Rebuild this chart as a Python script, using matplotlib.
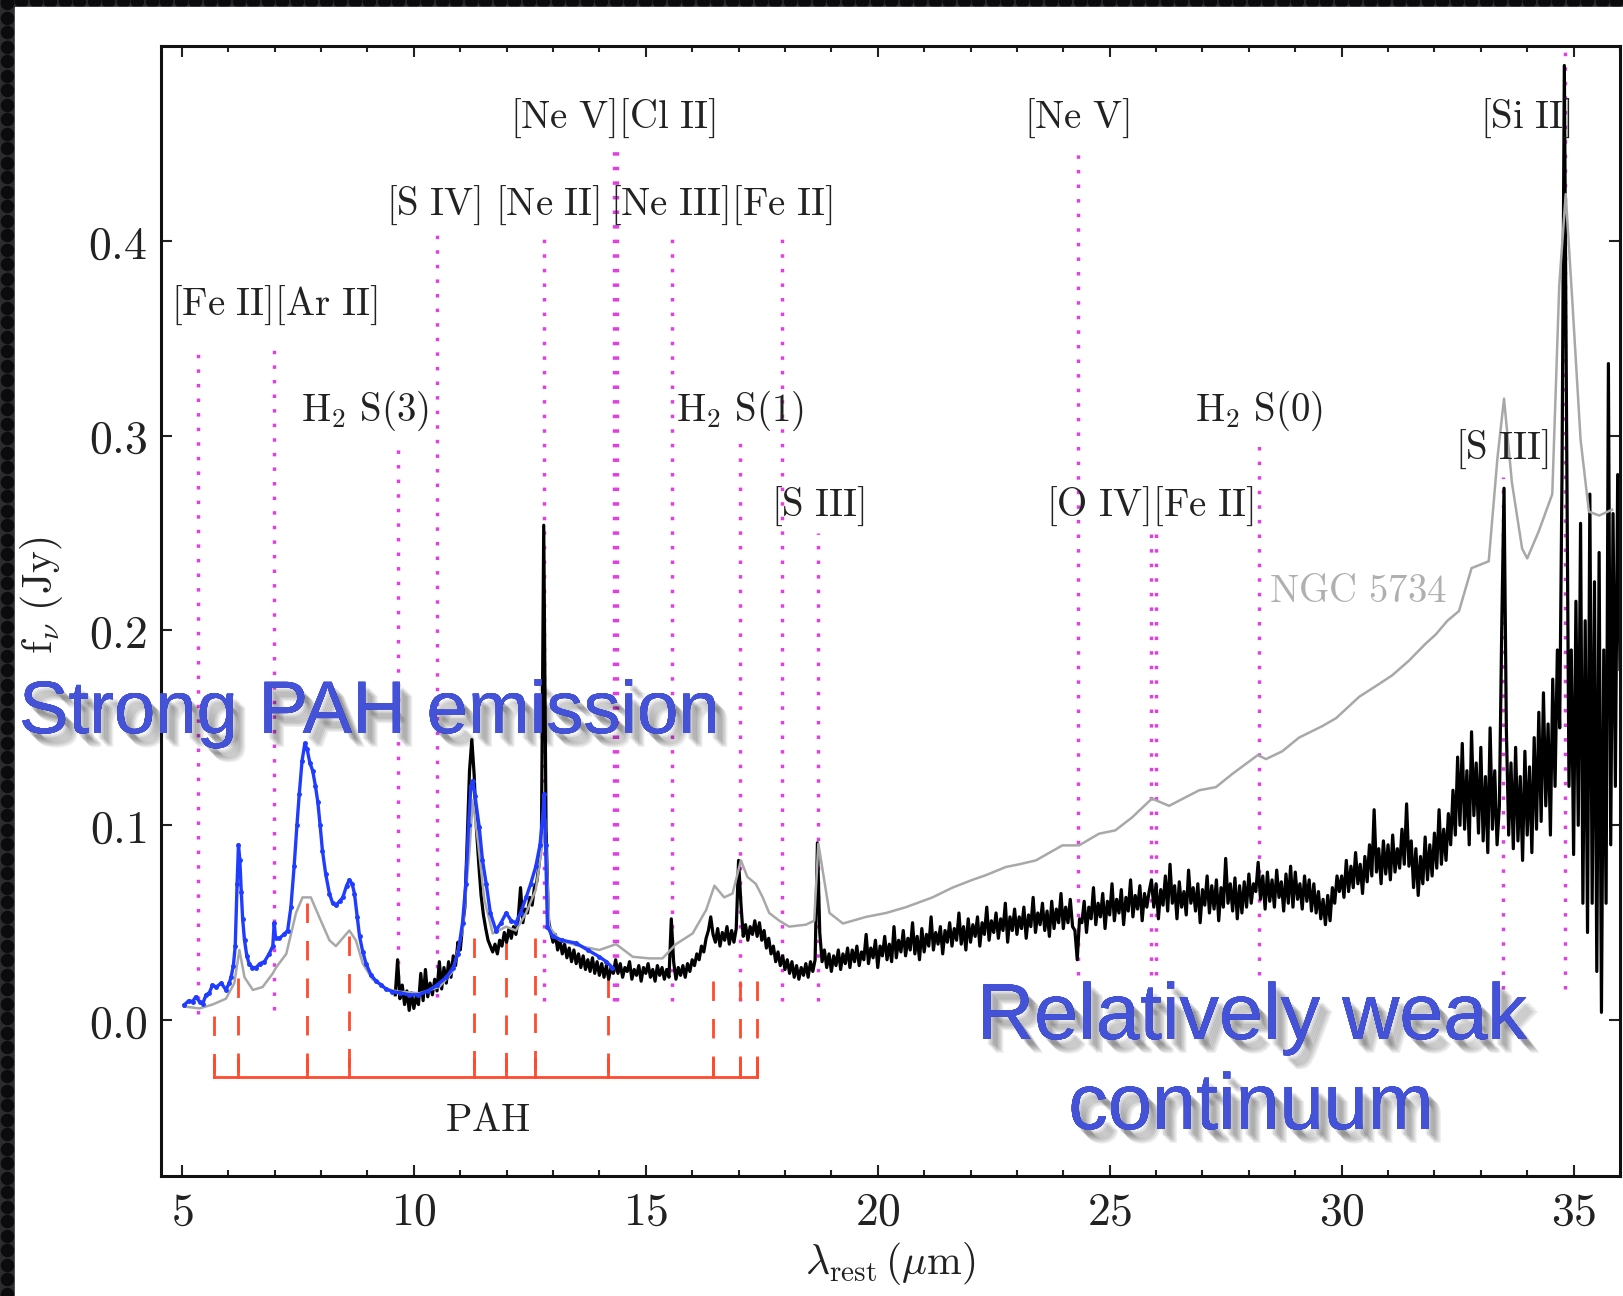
import numpy as np
import matplotlib
matplotlib.use("Agg")
import matplotlib.pyplot as plt
import matplotlib.patheffects as pe
from matplotlib.ticker import MultipleLocator, FixedLocator, FuncFormatter

plt.rcParams['mathtext.fontset'] = 'cm'

# ---------------- data ----------------
# gray comparison spectrum (NGC 5734)
gray_x = [5.05, 5.38, 5.66, 5.95, 6.13, 6.24, 6.35, 6.53, 6.74, 6.96, 7.03, 7.25, 7.46, 7.6, 7.78,
          7.96, 8.18, 8.32, 8.5, 8.61, 8.75, 8.9, 9.11, 9.4, 9.69, 10.12, 10.55, 10.84, 11.05, 11.2,
          11.27, 11.38, 11.52, 11.7, 11.99, 12.2, 12.42, 12.63, 12.78, 12.83, 12.92, 13.14, 13.57,
          14.0, 14.36, 14.72, 15.08, 15.36, 15.65, 16.01, 16.3, 16.48, 16.69, 16.87, 17.05, 17.19,
          17.37, 17.52, 17.66, 17.88, 18.09, 18.45, 18.63, 18.72, 18.96, 19.25, 19.75, 20.18, 20.61,
          21.18, 21.61, 22.04, 22.33, 22.76, 23.05, 23.41, 23.98, 24.34, 24.77, 25.12, 25.48, 25.91,
          26.28, 26.93, 27.29, 27.65, 28.19, 28.37, 28.72, 29.08, 29.59, 29.88, 30.38, 30.81, 31.09,
          31.45, 31.8, 32.03, 32.28, 32.53, 32.8, 33.17, 33.36, 33.5, 33.67, 33.89, 34.0, 34.25,
          34.54, 34.69, 34.83, 34.97, 35.15, 35.33, 35.55, 35.83]
gray_y = [0.007, 0.006, 0.008, 0.011, 0.019, 0.036, 0.022, 0.0155, 0.017, 0.024, 0.027, 0.034, 0.055,
          0.063, 0.063, 0.053, 0.041, 0.038, 0.043, 0.046, 0.041, 0.029, 0.021, 0.016, 0.0146, 0.0138,
          0.017, 0.025, 0.046, 0.087, 0.113, 0.092, 0.062, 0.0445, 0.048, 0.046, 0.055, 0.067, 0.092,
          0.103, 0.048, 0.041, 0.038, 0.036, 0.039, 0.0325, 0.0317, 0.0317, 0.039, 0.0445, 0.0565,
          0.069, 0.063, 0.065, 0.082, 0.0735, 0.070, 0.063, 0.055, 0.051, 0.048, 0.049, 0.051, 0.0906,
          0.055, 0.0496, 0.053, 0.055, 0.058, 0.063, 0.068, 0.072, 0.0744, 0.0786, 0.080, 0.082, 0.0897,
          0.0897, 0.0957, 0.0974, 0.104, 0.1137, 0.110, 0.118, 0.1196, 0.1265, 0.136, 0.134, 0.138,
          0.145, 0.151, 0.155, 0.166, 0.1726, 0.177, 0.1845, 0.193, 0.198, 0.205, 0.21, 0.232, 0.2355,
          0.289, 0.319, 0.276, 0.242, 0.237, 0.251, 0.270, 0.377, 0.424, 0.37, 0.298, 0.261, 0.259,
          0.262]

# blue low-resolution spectrum
blue_x = [5.05, 5.15, 5.23, 5.30, 5.38, 5.45, 5.52, 5.59, 5.66, 5.74, 5.85, 5.95, 6.02, 6.06, 6.11,
          6.15, 6.19, 6.22, 6.25, 6.28, 6.31, 6.35, 6.40, 6.45, 6.52, 6.6, 6.68, 6.78, 6.88, 6.96,
          6.99, 7.02, 7.1, 7.2, 7.28, 7.35, 7.42, 7.48, 7.53, 7.59, 7.65, 7.7, 7.76, 7.82, 7.88, 7.93,
          7.98, 8.03, 8.1, 8.18, 8.25, 8.32, 8.4, 8.47, 8.55, 8.61, 8.67, 8.72, 8.78, 8.83, 8.9, 8.97,
          9.08, 9.19, 9.3, 9.4, 9.54, 9.7, 9.9, 10.1, 10.3, 10.5, 10.7, 10.85, 10.95, 11.05, 11.12,
          11.18, 11.23, 11.27, 11.32, 11.41, 11.48, 11.56, 11.65, 11.77, 11.88, 11.99, 12.1, 12.2,
          12.3, 12.42, 12.52, 12.63, 12.72, 12.78, 12.81, 12.84, 12.88, 12.99, 13.2, 13.5, 13.75,
          14.0, 14.15, 14.28]
blue_y = [0.0078, 0.010, 0.0095, 0.012, 0.0095, 0.0085, 0.013, 0.014, 0.018, 0.017, 0.019, 0.0155,
          0.019, 0.022, 0.028, 0.038, 0.070, 0.090, 0.082, 0.066, 0.052, 0.041, 0.033, 0.029, 0.027,
          0.027, 0.029, 0.030, 0.034, 0.038, 0.050, 0.042, 0.042, 0.044, 0.046, 0.058, 0.079, 0.100,
          0.116, 0.133, 0.142, 0.139, 0.132, 0.128, 0.120, 0.112, 0.100, 0.087, 0.075, 0.065, 0.060,
          0.059, 0.061, 0.063, 0.069, 0.072, 0.070, 0.065, 0.053, 0.043, 0.035, 0.029, 0.023, 0.020,
          0.018, 0.016, 0.0146, 0.014, 0.013, 0.013, 0.015, 0.018, 0.022, 0.027, 0.034, 0.050, 0.070,
          0.100, 0.120, 0.123, 0.115, 0.099, 0.082, 0.070, 0.055, 0.046, 0.050, 0.055, 0.051, 0.050,
          0.055, 0.063, 0.070, 0.079, 0.090, 0.105, 0.116, 0.090, 0.048, 0.043, 0.041, 0.0395, 0.036,
          0.0325, 0.030, 0.027]

# black high-resolution spectrum on a 0.05 um grid (rows of 10 = 0.5 um)
black_start, black_step = 9.60, 0.05
black_y = [
    0.013, 0.031, 0.011, 0.018, 0.008, 0.015, 0.005, 0.014, 0.006, 0.012,   # 9.60
    0.008, 0.024, 0.010, 0.026, 0.012, 0.019, 0.013, 0.021, 0.015, 0.030,   # 10.10
    0.016, 0.027, 0.019, 0.030, 0.022, 0.033, 0.028, 0.040, 0.036, 0.048,   # 10.60
    0.058, 0.092, 0.128, 0.144, 0.126, 0.098, 0.080, 0.064, 0.054, 0.047,   # 11.10
    0.041, 0.038, 0.035, 0.039, 0.034, 0.041, 0.038, 0.045, 0.040, 0.047,   # 11.60
    0.042, 0.048, 0.044, 0.052, 0.068, 0.050, 0.057, 0.055, 0.063, 0.059,   # 12.10
    0.068, 0.071, 0.080, 0.092, 0.254, 0.098, 0.052, 0.045, 0.040, 0.044,   # 12.60
    0.036, 0.041, 0.034, 0.039, 0.032, 0.037, 0.030, 0.036, 0.029, 0.034,   # 13.10
    0.027, 0.033, 0.026, 0.031, 0.025, 0.032, 0.024, 0.030, 0.023, 0.029,   # 13.60
    0.022, 0.028, 0.021, 0.027, 0.024, 0.031, 0.024, 0.029, 0.022, 0.027,   # 14.10
    0.025, 0.030, 0.021, 0.026, 0.023, 0.028, 0.020, 0.027, 0.024, 0.029,   # 14.60
    0.022, 0.026, 0.020, 0.028, 0.023, 0.027, 0.021, 0.026, 0.022, 0.052,   # 15.10
    0.030, 0.021, 0.027, 0.023, 0.028, 0.022, 0.029, 0.025, 0.031, 0.028,   # 15.60
    0.034, 0.031, 0.038, 0.035, 0.042, 0.046, 0.053, 0.044, 0.040, 0.047,   # 16.10
    0.038, 0.045, 0.041, 0.048, 0.039, 0.046, 0.040, 0.047, 0.082, 0.060,   # 16.60
    0.043, 0.049, 0.041, 0.048, 0.044, 0.051, 0.043, 0.050, 0.041, 0.046,   # 17.10
    0.037, 0.042, 0.034, 0.038, 0.030, 0.035, 0.028, 0.033, 0.026, 0.031,   # 17.60
    0.024, 0.030, 0.022, 0.028, 0.021, 0.027, 0.023, 0.029, 0.022, 0.030,   # 18.10
    0.025, 0.031, 0.091, 0.045, 0.030, 0.036, 0.027, 0.034, 0.025, 0.033,   # 18.60
    0.028, 0.036, 0.026, 0.034, 0.029, 0.037, 0.027, 0.036, 0.030, 0.038,   # 19.10
    0.028, 0.035, 0.031, 0.044, 0.029, 0.037, 0.032, 0.041, 0.027, 0.038,   # 19.60
    0.033, 0.043, 0.031, 0.039, 0.030, 0.048, 0.032, 0.041, 0.035, 0.046,   # 20.10
    0.033, 0.042, 0.036, 0.050, 0.034, 0.043, 0.031, 0.047, 0.035, 0.044,   # 20.60
    0.038, 0.053, 0.036, 0.045, 0.039, 0.048, 0.034, 0.046, 0.040, 0.050,   # 21.10
    0.038, 0.047, 0.041, 0.055, 0.039, 0.048, 0.036, 0.052, 0.040, 0.049,   # 21.60
    0.043, 0.053, 0.038, 0.050, 0.044, 0.058, 0.041, 0.051, 0.045, 0.055,   # 22.10
    0.042, 0.052, 0.046, 0.060, 0.040, 0.053, 0.046, 0.057, 0.044, 0.053,   # 22.60
    0.047, 0.058, 0.042, 0.054, 0.048, 0.063, 0.045, 0.055, 0.049, 0.060,   # 23.10
    0.046, 0.056, 0.043, 0.061, 0.047, 0.057, 0.050, 0.065, 0.047, 0.058,   # 23.60
    0.050, 0.062, 0.048, 0.046, 0.031, 0.052, 0.050, 0.061, 0.045, 0.058,   # 24.10
    0.052, 0.068, 0.049, 0.060, 0.053, 0.065, 0.047, 0.061, 0.054, 0.070,   # 24.60
    0.051, 0.062, 0.055, 0.067, 0.049, 0.063, 0.056, 0.072, 0.053, 0.064,   # 25.10
    0.057, 0.069, 0.051, 0.065, 0.058, 0.066, 0.072, 0.058, 0.070, 0.052,   # 25.60
    0.067, 0.059, 0.074, 0.056, 0.080, 0.060, 0.069, 0.052, 0.071, 0.058,   # 26.10
    0.066, 0.054, 0.077, 0.060, 0.068, 0.056, 0.070, 0.050, 0.067, 0.059,   # 26.60
    0.074, 0.055, 0.069, 0.057, 0.072, 0.051, 0.068, 0.058, 0.083, 0.060,   # 27.10
    0.070, 0.056, 0.073, 0.052, 0.069, 0.055, 0.071, 0.058, 0.075, 0.060,   # 27.60
    0.070, 0.066, 0.081, 0.062, 0.074, 0.057, 0.076, 0.061, 0.072, 0.058,   # 28.10
    0.077, 0.063, 0.071, 0.056, 0.075, 0.060, 0.079, 0.058, 0.076, 0.062,   # 28.60
    0.070, 0.057, 0.074, 0.061, 0.072, 0.056, 0.070, 0.055, 0.066, 0.052,   # 29.10
    0.062, 0.049, 0.064, 0.051, 0.068, 0.060, 0.074, 0.066,                 # 29.60
    0.074, 0.063, 0.082, 0.066, 0.079, 0.068, 0.086, 0.070, 0.080, 0.065,   # 30.00
    0.084, 0.071, 0.090, 0.074, 0.108, 0.076, 0.088, 0.070, 0.092, 0.075,   # 30.50
    0.090, 0.072, 0.095, 0.076, 0.088, 0.078, 0.098, 0.080, 0.111, 0.079,   # 31.00
    0.092, 0.068, 0.088, 0.064, 0.084, 0.070, 0.094, 0.072, 0.090, 0.074,   # 31.50
    0.096, 0.078, 0.108, 0.080, 0.098, 0.082, 0.106, 0.090, 0.118, 0.095,   # 32.00
    0.135, 0.100, 0.142, 0.098, 0.128, 0.090, 0.148, 0.105, 0.132, 0.096,   # 32.50
    0.140, 0.092, 0.125, 0.086, 0.150, 0.098, 0.128, 0.090, 0.110, 0.200,   # 33.00
    0.273, 0.150, 0.095, 0.132, 0.088, 0.140, 0.092, 0.125, 0.082, 0.138,   # 33.50
    0.095, 0.130, 0.086, 0.145, 0.098, 0.158, 0.102, 0.168, 0.110, 0.152,   # 34.00
    0.095, 0.175, 0.120, 0.190, 0.150, 0.280, 0.490, 0.300, 0.120, 0.190,   # 34.50
    0.085, 0.215, 0.100, 0.255, 0.060, 0.205, 0.045, 0.270, 0.060, 0.225,   # 35.00
    0.025, 0.240, 0.004, 0.190, 0.060, 0.337, 0.090, 0.260, 0.120, 0.280,   # 35.50
    0.180]                                                                   # 36.00

# emission lines (wavelength, dotted-line bottom, dotted-line top)
line_wl = [5.34, 6.99, 9.66, 10.51, 12.81, 14.32, 14.37, 15.56, 17.03, 17.94, 18.71,
           24.32, 25.89, 25.99, 28.22, 33.48, 34.82]
line_bot = [0.003, 0.005, 0.014, 0.012, 0.010, 0.010, 0.010, 0.010, 0.010, 0.010, 0.010,
            0.023, 0.023, 0.023, 0.023, 0.016, 0.016]
line_top = [0.342, 0.345, 0.297, 0.403, 0.403, 0.448, 0.448, 0.403, 0.297, 0.403, 0.250,
            0.446, 0.250, 0.250, 0.297, 0.279, 0.500]

# line labels (text, x, y)
label_text = [r'$\mathrm{[Fe\ II][Ar\ II]}$', r'$\mathrm{H_2\ S(3)}$',
              r'$\mathrm{[S\ IV]\ [Ne\ II]}$', r'$\mathrm{[Ne\ V][Cl\ II]}$',
              r'$\mathrm{[Ne\ III][Fe\ II]}$', r'$\mathrm{H_2\ S(1)}$', r'$\mathrm{[S\ III]}$',
              r'$\mathrm{[Ne\ V]}$', r'$\mathrm{[O\ IV][Fe\ II]}$', r'$\mathrm{H_2\ S(0)}$',
              r'$\mathrm{[S\ III]}$', r'$\mathrm{[Si\ II]}$']
label_x = [6.98, 8.95, 11.71, 14.28, 16.63, 17.03, 18.72, 24.30, 25.87, 28.21, 33.45, 33.95]
label_y = [0.367, 0.3125, 0.418, 0.4627, 0.418, 0.3125, 0.2637, 0.4627, 0.2637, 0.3125,
           0.293, 0.4627]

# PAH features (wavelength, top of dashed marker)
pah_wl = [5.70, 6.22, 7.70, 8.61, 11.30, 11.99, 12.62, 14.19, 16.45, 17.04, 17.40]
pah_top = [0.002, 0.0216, 0.060, 0.043, 0.042, 0.041, 0.042, 0.0216, 0.020, 0.020, 0.020]
pah_bar = -0.029

x_ticks = [5, 10, 15, 20, 25, 30, 35]
y_ticks = [0.0, 0.1, 0.2, 0.3, 0.4]

# ---------------- figure ----------------
W, H = 1624, 1296
fig = plt.figure(figsize=(W / 100, H / 100), dpi=100)

# slide background: dark patterned border, white panel
bg = fig.add_axes([0, 0, 1, 1], zorder=-10)
bg.set_xlim(0, W)
bg.set_ylim(H, 0)
bg.axis('off')
bg.add_patch(plt.Rectangle((0, 0), W, H, color='#2b2b30'))
cy = np.arange(3, H, 14.5)
bg.scatter(np.full(len(cy), 7.0), cy, s=95, color='#0b0b0d', lw=0)
cx = np.arange(7, W, 14.5)
bg.scatter(cx, np.full(len(cx), 0.5), s=95, color='#0b0b0d', lw=0)
bg.add_patch(plt.Rectangle((15, 7), W - 15, H - 7, color='white'))

ax = fig.add_axes([161 / W, 1 - 1176 / H, (1620 - 161) / W, (1176 - 46) / H])
ax.set_xlim(4.55, 36.0)
ax.set_ylim(-0.08, 0.5)

# dotted emission-line markers
for wl, b, t in zip(line_wl, line_bot, line_top):
    ax.plot([wl, wl], [b, t], color='#e040e0', lw=2.5, ls=(0, (1, 3.2)), zorder=1)

# PAH markers
for wl, t in zip(pah_wl, pah_top):
    ax.plot([wl, wl], [t, pah_bar], color='#ff4a2e', lw=2.0, ls=(0, (7, 6.5)), zorder=1)
    ax.plot([wl, wl], [pah_bar, pah_bar + 0.009], color='#ff4a2e', lw=2.0, zorder=1)
ax.plot([pah_wl[0], pah_wl[-1]], [pah_bar, pah_bar], color='#ff4a2e', lw=2.0, zorder=1)
ax.text(11.6, -0.0515, r'$\mathrm{PAH}$', ha='center', va='center', fontsize=28, color='#222222')

# spectra
bx = np.round(black_start + black_step * np.arange(len(black_y)), 3)
ax.plot(bx, black_y, color='black', lw=2.3, zorder=2)
ax.plot(gray_x, gray_y, color='#a8a8a8', lw=1.8, zorder=3)
ax.plot(blue_x, blue_y, color='#1f3cff', lw=2.4, marker='o', ms=2.5, zorder=4)

# labels
for t, x, y in zip(label_text, label_x, label_y):
    ax.text(x, y, t, ha='center', va='center', fontsize=28, color='#222222', zorder=5)
ax.text(30.35, 0.2204, r'$\mathrm{NGC\ 5734}$', ha='center', va='center', fontsize=28,
        color='#b0b0b0', zorder=5)

# axes styling
ax.xaxis.set_major_locator(FixedLocator(x_ticks))
ax.xaxis.set_minor_locator(MultipleLocator(1))
ax.yaxis.set_major_locator(FixedLocator(y_ticks))
ax.xaxis.set_major_formatter(FuncFormatter(lambda v, p: r'$%d$' % v))
ax.yaxis.set_major_formatter(FuncFormatter(lambda v, p: r'$%.1f$' % v))
ax.tick_params(which='both', direction='in', top=True, right=True, labelsize=33, width=1.5,
               color='#222222', labelcolor='#222222')
ax.tick_params(which='major', length=8, pad=10)
ax.tick_params(which='minor', length=4)
for s in ax.spines.values():
    s.set_linewidth(2.2)
    s.set_color('#111111')
ax.set_xlabel(r'$\lambda_{\rm rest}\,(\mu{\rm m})$', fontsize=30, color='#222222', labelpad=4)
ax.set_ylabel(r'${\rm f}_\nu\ ({\rm Jy})$', fontsize=30, color='#222222', labelpad=8)
ax.yaxis.set_label_coords(-0.066, 0.514)

# slide annotations with a soft drop shadow
shadow = [pe.withSimplePatchShadow(offset=(o, -o - 1), shadow_rgbFace='#000000', alpha=0.07)
          for o in (9, 8, 7, 6, 5, 4, 3)]
blue_txt = '#4352d6'
fig.text(19 / W, 1 - 733 / H, 'Strong PAH emission', fontsize=53.5, family='Liberation Sans',
         color=blue_txt, ha='left', va='baseline', path_effects=shadow, zorder=10)
fig.text(1252 / W, 1 - 1039 / H, 'Relatively weak', fontsize=57, family='Liberation Sans',
         color=blue_txt, ha='center', va='baseline', path_effects=shadow, zorder=10)
fig.text(1251 / W, 1 - 1129 / H, 'continuum', fontsize=57, family='Liberation Sans',
         color=blue_txt, ha='center', va='baseline', path_effects=shadow, zorder=10)

fig.savefig('out.png', dpi=100)
